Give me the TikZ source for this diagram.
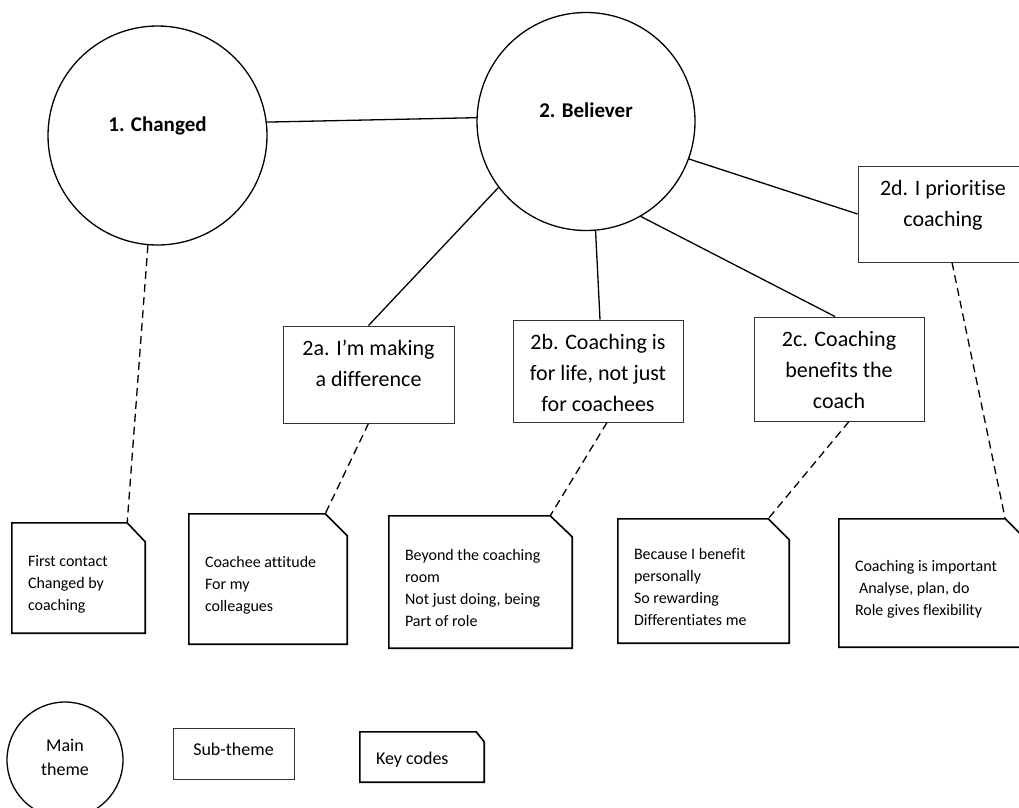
\documentclass[tikz,border=0pt]{standalone}
\usepackage{fontspec}
\setmainfont{Carlito}[Ligatures=NoCommon]
\usetikzlibrary{calc}
\newcommand\subtext[5]{\parbox[c][#2pt][t]{#1pt}{\centering#3\vspace*{#4pt}\strut #5}}
\newcommand\keytext[4]{\parbox[c][#2pt][c]{\dimexpr#1pt-32pt\relax}{\raggedright\fontsize{#3}{22}\selectfont\vspace*{12pt}#4}}
\tikzset{
  maincirc/.style={circle, draw, line width=1.3pt, inner sep=0pt,
    font=\bfseries\fontsize{21}{25}\selectfont, text height=15pt, text depth=23pt},
  subbox/.style={rectangle, draw=black!80, line width=0.9pt, inner sep=0pt},
  keybox/.style={rectangle, inner xsep=16pt, inner ysep=0pt},
  keyline/.style={line width=1.6pt, line join=miter},
  link/.style={line width=1.3pt},
  dlink/.style={line width=1.3pt, dash pattern=on 8pt off 5pt},
}
\begin{document}
\begin{tikzpicture}[x=1pt, y=-1pt]
\useasboundingbox (0,0) rectangle (1019,807);
\fill[white] (0,0) rectangle (1019,807);

% main themes
\node[maincirc, minimum size=219pt] (c1) at (157.5,135.5) {1. Changed};
\node[maincirc, minimum size=218pt] (c2) at (586,121.5) {2. Believer};

% sub-themes
\node[subbox] (b2a) at (368.5,374.5) {\subtext{171}{97}{\fontsize{22}{31}\selectfont}{8}{2a. I’m making\\a difference}};
\node[subbox] (b2b) at (598,371) {\subtext{170}{102}{\fontsize{22}{31}\selectfont}{8}{2b. Coaching is\\for life, not just\\for coachees}};
\node[subbox] (b2c) at (839,369) {\subtext{170}{104}{\fontsize{22}{31}\selectfont}{8}{2c. Coaching\\benefits the\\coach}};
\node[subbox] (b2d) at (943,214) {\subtext{170}{96}{\fontsize{22}{31}\selectfont}{8}{2d. I prioritise\\coaching}};

% key codes
\node[keybox] (k1) at (78.5,578) {\keytext{133}{110}{16}{First contact\\Changed by\\coaching}};
\node[keybox] (k2) at (268,579) {\keytext{158}{130}{16}{Coachee attitude\\For my\\colleagues}};
\node[keybox] (k3) at (480.5,582) {\keytext{183}{132}{16}{Beyond the coaching\\room\\Not just doing, being\\Part of role}};
\node[keybox] (k4) at (703.5,581) {\keytext{171}{124}{16}{Because I benefit\\personally\\So rewarding\\Differentiates me}};
\node[keybox] (k5) at (932.5,583) {\keytext{187}{128}{16}{Coaching is important\\\hspace*{4pt}Analyse, plan, do\\Role gives flexibility}};

\draw[keyline] (k1.north west) -- ([xshift=-18pt]k1.north east) -- ([yshift=-19pt]k1.north east) -- (k1.south east) -- (k1.south west) -- cycle;
\draw[keyline] (k2.north west) -- ([xshift=-22pt]k2.north east) -- ([yshift=-22pt]k2.north east) -- (k2.south east) -- (k2.south west) -- cycle;
\draw[keyline] (k3.north west) -- ([xshift=-22pt]k3.north east) -- ([yshift=-21pt]k3.north east) -- (k3.south east) -- (k3.south west) -- cycle;
\draw[keyline] (k4.north west) -- ([xshift=-21pt]k4.north east) -- ([yshift=-21pt]k4.north east) -- (k4.south east) -- (k4.south west) -- cycle;
\draw[keyline] (k5.north west) -- ([xshift=-21pt]k5.north east) -- ([yshift=-21pt]k5.north east) -- (k5.south east) -- (k5.south west) -- cycle;

% solid connectors
\draw[link] (c1.7) -- (c2.178);
\draw[link] (c2.217) -- (b2a.north);
\draw[link] (c2.275) -- ([xshift=2pt]b2b.north);
\draw[link] (c2.300) -- ([xshift=-4pt]b2c.north);
\draw[link] (c2.340) -- (b2d.west);

% dashed connectors
\draw[dlink] (c1.265) -- ([xshift=-18pt]k1.north east);
\draw[dlink] (b2a.south) -- ([xshift=-22pt]k2.north east);
\draw[dlink] ([xshift=9pt]b2b.south) -- ([xshift=-22pt]k3.north east);
\draw[dlink] ([xshift=10pt]b2c.south) -- ([xshift=-21pt]k4.north east);
\draw[dlink] ([xshift=9pt]b2d.south) -- ([xshift=-21pt]k5.north east);

% legend
\node[circle, draw, line width=1.3pt, minimum size=116pt, inner sep=0pt] (lm) at (65,760)
  {\parbox[c][60pt][c]{80pt}{\centering\fontsize{18}{24}\selectfont Main\\theme\par\vspace*{6pt}}};
\node[subbox] (ls) at (233.5,753.5) {\subtext{121}{51}{\fontsize{18}{24}\selectfont}{11}{Sub-theme}};
\node[keybox] (lk) at (422,757) {\parbox[c][50pt][c]{92pt}{\raggedright\fontsize{18}{24}\selectfont\vspace*{6pt}Key codes}};
\draw[keyline] (lk.north west) -- ([xshift=-8pt]lk.north east) -- ([yshift=-10pt]lk.north east) -- (lk.south east) -- (lk.south west) -- cycle;
\end{tikzpicture}
\end{document}
